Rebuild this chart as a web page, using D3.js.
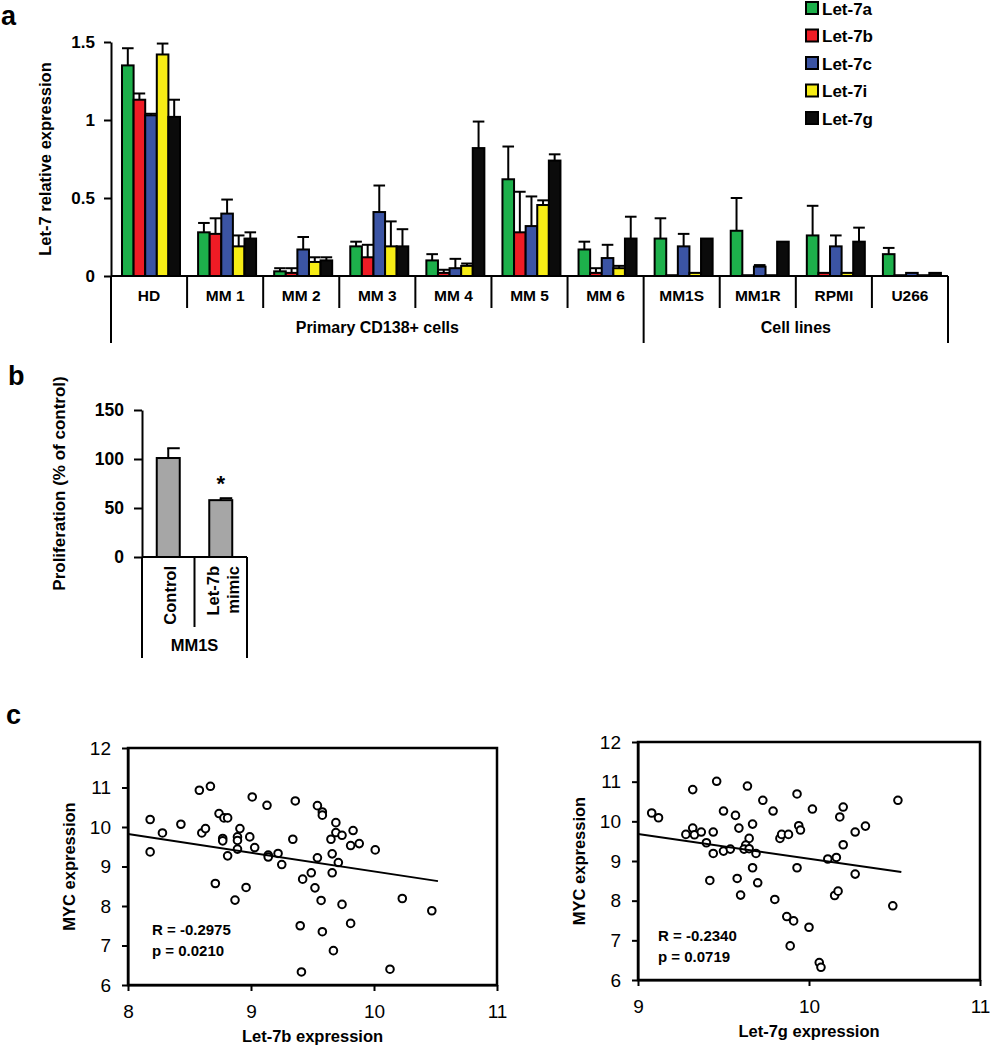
<!DOCTYPE html>
<html>
<head>
<meta charset="utf-8">
<script src="https://cdn.jsdelivr.net/npm/d3@7"></script>
<style>
body { margin: 0; background: #fff; }
text { font-family: "Liberation Sans", Arial, sans-serif; }
</style>
</head>
<body>
<div id="chart"></div>
<script>
// ---- panel a data
const cellNames = ["HD", "MM 1", "MM 2", "MM 3", "MM 4", "MM 5", "MM 6", "MM1S", "MM1R", "RPMI", "U266"];
const groupNames = ["Primary CD138+ cells", "Cell lines"];
const groupSizes = [7, 4];
const seriesNames = ["Let-7a", "Let-7b", "Let-7c", "Let-7i", "Let-7g"];
const seriesColors = ["#1db04b", "#ee1c25", "#3b54a4", "#f6ec15", "#0b0b0b"];
const let7a = [1.35, 0.28, 0.03, 0.19, 0.10, 0.62, 0.17, 0.24, 0.29, 0.26, 0.14];
const let7aSd = [0.11, 0.06, 0.02, 0.03, 0.04, 0.21, 0.05, 0.13, 0.21, 0.19, 0.04];
const let7b = [1.13, 0.27, 0.02, 0.12, 0.02, 0.28, 0.02, 0.005, 0.005, 0.02, 0.005];
const let7bSd = [0.04, 0.10, 0.03, 0.08, 0.02, 0.26, 0.03, 0, 0, 0, 0];
const let7c = [1.03, 0.40, 0.17, 0.41, 0.05, 0.32, 0.115, 0.19, 0.06, 0.19, 0.02];
const let7cSd = [0.01, 0.09, 0.08, 0.17, 0.06, 0.19, 0.085, 0.08, 0.01, 0.07, 0];
const let7i = [1.42, 0.19, 0.09, 0.19, 0.065, 0.455, 0.05, 0.02, 0.005, 0.02, 0.005];
const let7iSd = [0.07, 0.07, 0.03, 0.16, 0.015, 0.03, 0.015, 0, 0, 0, 0];
const let7g = [1.02, 0.24, 0.10, 0.19, 0.82, 0.74, 0.24, 0.24, 0.22, 0.22, 0.02];
const let7gSd = [0.11, 0.04, 0.02, 0.11, 0.17, 0.04, 0.14, 0, 0, 0.09, 0];
const expTicks = [0, 0.5, 1, 1.5];

// ---- panel b data
const prolifCats = ["Control", "Let-7b\nmimic"];
const prolifVals = [101, 58];
const prolifSd = [10, 2];
const prolifTicks = [0, 50, 100, 150];

// ---- panel c data
const let7bExpr = [8.18, 8.18, 8.28, 8.43, 8.58, 8.67, 8.60, 8.63, 8.74, 8.78, 8.81, 8.77, 8.77, 8.81, 8.71,
  8.87, 8.91, 8.89, 8.89, 8.89, 8.96, 8.99, 9.03, 9.01, 9.13, 9.14, 9.14, 9.22, 9.25, 9.34, 9.36, 9.54, 9.58,
  9.58, 9.69, 9.69, 9.74, 9.65, 9.83, 9.81, 9.88, 10.01, 9.54, 9.66, 9.71, 9.66, 9.49, 9.42, 9.52, 9.57, 9.74,
  10.23, 10.47, 9.40, 9.58, 9.81, 9.67, 9.41, 10.13];
const mycB = [10.19, 9.37, 9.85, 10.07, 10.93, 11.03, 9.85, 9.96, 10.34, 10.23, 10.23, 9.71, 9.65, 9.27, 8.57,
  8.15, 9.96, 9.75, 9.66, 9.44, 8.47, 9.75, 9.48, 10.76, 10.55, 9.29, 9.24, 9.33, 9.05, 9.69, 10.66, 10.54, 10.38,
  10.30, 10.11, 9.86, 9.79, 9.69, 9.91, 9.53, 9.58, 9.42, 9.22, 9.32, 9.10, 8.84, 8.84, 8.68, 8.46, 8.14, 8.04,
  8.19, 7.88, 7.50, 7.35, 7.56, 6.87, 6.33, 6.40];
const fitB = [[8, 9.82], [10.52, 8.63]];
const let7gExpr = [9.08, 9.12, 9.32, 9.46, 9.64, 9.73, 9.93, 10.02, 9.79, 9.50, 9.57, 9.67, 9.59, 9.32, 9.28,
  9.33, 9.37, 9.44, 9.40, 9.44, 9.50, 9.54, 9.65, 9.63, 9.62, 9.65, 9.69, 9.67, 9.42, 9.58, 9.60, 9.70, 9.80,
  9.83, 9.84, 9.88, 9.94, 9.95, 9.93, 9.87, 9.91, 10.00, 9.89, 10.06, 10.07, 10.11, 10.16, 10.18, 10.20, 10.20,
  10.27, 10.33, 10.27, 10.15, 10.17, 10.52, 10.49];
const mycG = [10.21, 10.09, 10.80, 11.01, 10.89, 10.53, 10.69, 10.31, 10.26, 10.26, 10.15, 9.93, 9.83, 9.83, 9.67,
  9.66, 9.73, 9.73, 9.46, 9.19, 9.25, 9.30, 9.57, 9.40, 9.30, 9.31, 9.19, 8.83, 8.51, 8.56, 8.14, 8.45, 8.03,
  9.57, 9.67, 9.67, 9.89, 9.78, 8.83, 7.60, 7.49, 7.33, 6.86, 6.44, 6.32, 9.05, 9.09, 10.11, 10.36, 9.41,
  9.73, 9.88, 8.67, 8.13, 8.24, 10.53, 7.87];
const fitG = [[9, 9.68], [10.54, 8.72]];
const mycTicks = [6, 7, 8, 9, 10, 11, 12];

let svg = d3.select('#chart').append('svg')
    .attr('width', 990).attr('height', 1050);
svg.append('rect').attr('width', 990).attr('height', 1050).attr('fill', '#fff');

function panelLabel(t, x, y) {
    svg.append('text').text(t).attr('x', x).attr('y', y)
        .attr('font-size', 27).attr('font-weight', 'bold');
}
function styleAxis(g, size, weight) {
    g.select('.domain').attr('stroke', '#000').attr('stroke-width', 2);
    g.selectAll('.tick line').attr('stroke', '#000').attr('stroke-width', 2);
    g.selectAll('.tick text').attr('fill', '#000')
        .attr('font-size', size).attr('font-weight', weight)
        .style('font-family', '"Liberation Sans", Arial, sans-serif');
}

// ================= panel a
panelLabel('a', 1, 25);
let aLeft = 111, aRight = 948, aTop = 42, aBase = 276;
let xCell = d3.scaleBand().domain(cellNames).range([aLeft, aRight]);
let xSeries = d3.scaleBand().domain(seriesNames).range([11, 69]);
let yExp = d3.scaleLinear().domain([0, 1.5]).range([aBase, aTop]);
let seriesVals = [let7a, let7b, let7c, let7i, let7g];
let seriesSd = [let7aSd, let7bSd, let7cSd, let7iSd, let7gSd];

let barData = [];
cellNames.forEach((c, i) => {
    seriesNames.forEach((s, j) => {
        barData.push({ cell: c, s: s, v: seriesVals[j][i], sd: seriesSd[j][i], color: seriesColors[j] });
    });
});

let gA = svg.append('g');
// error bars (upper only)
let errA = gA.selectAll('.err').data(barData.filter(d => d.sd > 0)).enter().append('g');
errA.append('line')
    .attr('x1', d => xCell(d.cell) + xSeries(d.s) + xSeries.bandwidth() / 2)
    .attr('x2', d => xCell(d.cell) + xSeries(d.s) + xSeries.bandwidth() / 2)
    .attr('y1', d => yExp(d.v)).attr('y2', d => yExp(d.v + d.sd))
    .attr('stroke', '#000').attr('stroke-width', 2);
errA.append('line')
    .attr('x1', d => xCell(d.cell) + xSeries(d.s))
    .attr('x2', d => xCell(d.cell) + xSeries(d.s) + xSeries.bandwidth())
    .attr('y1', d => yExp(d.v + d.sd)).attr('y2', d => yExp(d.v + d.sd))
    .attr('stroke', '#000').attr('stroke-width', 2);

gA.selectAll('.bar').data(barData).enter().append('rect')
    .attr('x', d => xCell(d.cell) + xSeries(d.s))
    .attr('y', d => yExp(d.v))
    .attr('width', xSeries.bandwidth())
    .attr('height', d => aBase - yExp(d.v))
    .attr('fill', d => d.color)
    .attr('stroke', '#000').attr('stroke-width', 2);

gA.append('g')
    .attr('transform', 'translate(' + aLeft + ',0)')
    .call(d3.axisLeft(yExp).tickValues(expTicks).tickSize(7).tickSizeOuter(0).tickPadding(9).tickFormat(d => d))
    .call(g => styleAxis(g, 17, 'bold'));

gA.append('line').attr('x1', aLeft).attr('x2', aRight).attr('y1', aBase).attr('y2', aBase)
    .attr('stroke', '#000').attr('stroke-width', 2);

// table under the bars
let groupEdges = [0];
groupSizes.forEach(n => groupEdges.push(groupEdges[groupEdges.length - 1] + n));
let bandW = xCell.bandwidth();
for (let i = 0; i <= cellNames.length; i++) {
    let x = i < cellNames.length ? xCell(cellNames[i]) : aRight;
    let isGroupEdge = groupEdges.indexOf(i) >= 0;
    gA.append('line').attr('x1', x).attr('x2', x)
        .attr('y1', aBase).attr('y2', isGroupEdge ? 343 : 308)
        .attr('stroke', '#000').attr('stroke-width', 2);
}
gA.selectAll('.cellLabel').data(cellNames).enter().append('text')
    .attr('x', d => xCell(d) + bandW / 2).attr('y', 301)
    .attr('text-anchor', 'middle').attr('font-size', 15.5).attr('font-weight', 'bold')
    .text(d => d);
groupNames.forEach((gname, k) => {
    let x0 = xCell(cellNames[groupEdges[k]]);
    let x1 = groupEdges[k + 1] < cellNames.length ? xCell(cellNames[groupEdges[k + 1]]) : aRight;
    gA.append('text').attr('x', (x0 + x1) / 2).attr('y', 333)
        .attr('text-anchor', 'middle').attr('font-size', 16).attr('font-weight', 'bold')
        .text(gname);
});

gA.append('text')
    .attr('transform', 'translate(51,' + ((aTop + aBase) / 2) + ') rotate(-90)')
    .attr('text-anchor', 'middle').attr('font-size', 16.5).attr('font-weight', 'bold')
    .text('Let-7 relative expression');

// legend
let legend = gA.selectAll('.leg').data(seriesNames).enter().append('g')
    .attr('transform', (d, i) => 'translate(806,' + (8 + i * 27.5) + ')');
legend.append('rect').attr('x', 0).attr('y', -6).attr('width', 12).attr('height', 12)
    .attr('fill', (d, i) => seriesColors[i]).attr('stroke', '#000').attr('stroke-width', 2);
legend.append('text').attr('x', 16).attr('y', 6.5)
    .attr('font-size', 17).attr('font-weight', 'bold').text(d => d);

// ================= panel b
panelLabel('b', 8, 385);
let bLeft = 142, bRight = 247, bTop = 410, bBase = 557;
let xProl = d3.scaleBand().domain(prolifCats).range([bLeft, bRight]);
let yProl = d3.scaleLinear().domain([0, 150]).range([bBase, bTop]);
let gB = svg.append('g');
let prolData = prolifCats.map((c, i) => ({ c: c, v: prolifVals[i], sd: prolifSd[i] }));
let barW = 23;

gB.selectAll('.perr').data(prolData).enter().append('line')
    .attr('x1', d => xProl(d.c) + xProl.bandwidth() / 2).attr('x2', d => xProl(d.c) + xProl.bandwidth() / 2)
    .attr('y1', d => yProl(d.v)).attr('y2', d => yProl(d.v + d.sd))
    .attr('stroke', '#000').attr('stroke-width', 2);
gB.selectAll('.pcap').data(prolData).enter().append('line')
    .attr('x1', d => xProl(d.c) + xProl.bandwidth() / 2 - 1)
    .attr('x2', d => xProl(d.c) + xProl.bandwidth() / 2 + barW / 2)
    .attr('y1', d => yProl(d.v + d.sd)).attr('y2', d => yProl(d.v + d.sd))
    .attr('stroke', '#000').attr('stroke-width', 2);
gB.selectAll('.pbar').data(prolData).enter().append('rect')
    .attr('x', d => xProl(d.c) + (xProl.bandwidth() - barW) / 2)
    .attr('y', d => yProl(d.v))
    .attr('width', barW).attr('height', d => bBase - yProl(d.v))
    .attr('fill', '#a6a6a6').attr('stroke', '#000').attr('stroke-width', 2);

gB.append('g')
    .attr('transform', 'translate(' + bLeft + ',0)')
    .call(d3.axisLeft(yProl).tickValues(prolifTicks).tickSize(8).tickSizeOuter(0).tickPadding(10))
    .call(g => styleAxis(g, 17.5, 'bold'));
gB.append('line').attr('x1', bLeft).attr('x2', bRight).attr('y1', bBase).attr('y2', bBase)
    .attr('stroke', '#000').attr('stroke-width', 2);
gB.append('line').attr('x1', xProl(prolifCats[1])).attr('x2', xProl(prolifCats[1]))
    .attr('y1', bBase).attr('y2', 627).attr('stroke', '#000').attr('stroke-width', 2);
[bLeft, bRight].forEach(x => {
    gB.append('line').attr('x1', x).attr('x2', x).attr('y1', bBase).attr('y2', 658)
        .attr('stroke', '#000').attr('stroke-width', 2);
});
prolData.forEach(d => {
    let lines = d.c.split('\n');
    lines.forEach((t, k) => {
        let x = xProl(d.c) + xProl.bandwidth() / 2 + 8 + (k - (lines.length - 1) / 2) * 20;
        gB.append('text')
            .attr('transform', 'translate(' + x + ',566) rotate(-90)')
            .attr('text-anchor', 'end').attr('font-size', 16.5).attr('font-weight', 'bold')
            .text(t);
    });
});
gB.append('text').attr('x', (bLeft + bRight) / 2).attr('y', 651)
    .attr('text-anchor', 'middle').attr('font-size', 16.5).attr('font-weight', 'bold').text('MM1S');
gB.append('text').attr('x', xProl(prolifCats[1]) + xProl.bandwidth() / 2).attr('y', 491)
    .attr('text-anchor', 'middle').attr('font-size', 22).attr('font-weight', 'bold').text('*');
gB.append('text')
    .attr('transform', 'translate(65,' + ((bTop + bBase) / 2 + 0) + ') rotate(-90)')
    .attr('text-anchor', 'middle').attr('font-size', 17).attr('font-weight', 'bold')
    .text('Proliferation (% of control)');

// ================= panel c
panelLabel('c', 6, 724);

function scatter(opt) {
    let g = svg.append('g');
    let x = d3.scaleLinear().domain(opt.xDomain).range([opt.left, opt.right]);
    let y = d3.scaleLinear().domain([6, 12]).range([opt.bottom, opt.top]);
    g.append('g').attr('transform', 'translate(0,' + opt.bottom + ')')
        .call(d3.axisBottom(x).tickValues(opt.xTicks).tickSize(6).tickSizeOuter(0).tickPadding(14)
            .tickFormat(d3.format('d')))
        .call(a => styleAxis(a, 19, 'normal'));
    g.append('g').attr('transform', 'translate(' + opt.left + ',0)')
        .call(d3.axisLeft(y).tickValues(mycTicks).tickSize(6).tickSizeOuter(0).tickPadding(11)
            .tickFormat(d3.format('d')))
        .call(a => styleAxis(a, 19, 'normal'));
    g.append('rect').attr('x', opt.left).attr('y', opt.top)
        .attr('width', opt.right - opt.left).attr('height', opt.bottom - opt.top)
        .attr('fill', 'none').attr('stroke', '#000').attr('stroke-width', 2.5);
    let pts = opt.xs.map((v, i) => [v, opt.ys[i]]);
    g.selectAll('circle').data(pts).enter().append('circle')
        .attr('cx', d => x(d[0])).attr('cy', d => y(d[1])).attr('r', 3.8)
        .attr('fill', '#fff').attr('stroke', '#000').attr('stroke-width', 2);
    g.append('line')
        .attr('x1', x(opt.fit[0][0])).attr('y1', y(opt.fit[0][1]))
        .attr('x2', x(opt.fit[1][0])).attr('y2', y(opt.fit[1][1]))
        .attr('stroke', '#000').attr('stroke-width', 2);
    opt.stats.forEach((t, k) => {
        g.append('text').attr('x', opt.left + opt.statDx).attr('y', opt.statY + k * 21)
            .attr('font-size', 15).attr('font-weight', 'bold').text(t);
    });
    g.append('text').attr('x', (opt.left + opt.right) / 2).attr('y', opt.bottom + 57)
        .attr('text-anchor', 'middle').attr('font-size', 16.5).attr('font-weight', 'bold').text(opt.xTitle);
    g.append('text')
        .attr('transform', 'translate(' + opt.yTitleX + ',' + ((opt.top + opt.bottom) / 2) + ') rotate(-90)')
        .attr('text-anchor', 'middle').attr('font-size', 16.5).attr('font-weight', 'bold').text('MYC expression');
}

scatter({ left: 128, right: 497, top: 748, bottom: 985, xDomain: [8, 11], xTicks: [8, 9, 10, 11],
    xs: let7bExpr, ys: mycB, fit: fitB, stats: ['R = -0.2975', 'p = 0.0210'], statDx: 24, statY: 935,
    xTitle: 'Let-7b expression', yTitleX: 75 });
scatter({ left: 638, right: 980, top: 742, bottom: 980, xDomain: [9, 11], xTicks: [9, 10, 11],
    xs: let7gExpr, ys: mycG, fit: fitG, stats: ['R = -0.2340', 'p = 0.0719'], statDx: 20, statY: 941,
    xTitle: 'Let-7g expression', yTitleX: 585 });
</script>
</body>
</html>
